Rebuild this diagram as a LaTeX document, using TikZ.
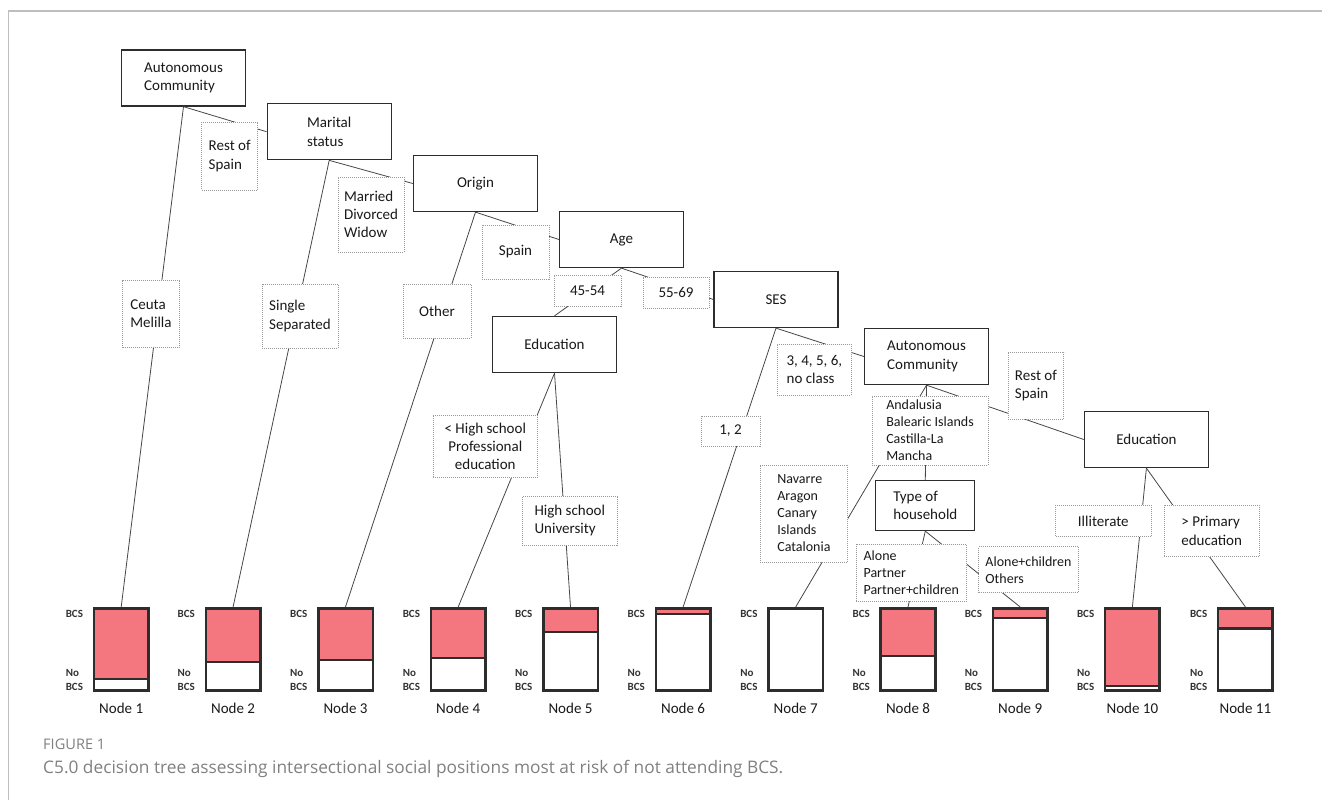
\documentclass[tikz,border=0pt]{standalone}
\usepackage{fontspec}
\setmainfont{Carlito}
\newfontfamily\capfont{Open Sans}
\usepackage{tikz}
\usetikzlibrary{positioning}

\definecolor{bcsred}{RGB}{244,119,127}
\definecolor{boxline}{RGB}{45,45,45}
\definecolor{edgeline}{RGB}{70,70,70}
\definecolor{frameline}{RGB}{190,190,190}
\definecolor{capgray}{RGB}{128,128,128}

\begin{document}
\begin{tikzpicture}[
    x=1pt, y=-1pt,
    every node/.style={font=\fontsize{15}{18.3}\selectfont, text=black!90}
  ]

  % styles
  \tikzstyle{split}=[rectangle, draw=boxline, line width=1.3pt, fill=white, minimum width=124pt, minimum height=56pt, align=left, inner sep=2pt]
  \tikzstyle{cond}=[rectangle, draw=black!40, dash pattern=on 1pt off 1pt, line width=0.8pt, fill=white, align=left, inner sep=1pt]
  \tikzstyle{condsmall}=[cond, font=\fontsize{14}{17}\selectfont]
  \tikzstyle{edge}=[draw=edgeline, line width=0.8pt]
  \tikzstyle{bar}=[rectangle, draw=boxline, line width=2.6pt, minimum width=54.6pt, minimum height=82.5pt, inner sep=0pt]
  \tikzstyle{barlbl}=[font=\fontsize{11}{14}\selectfont\bfseries, text=black!80, align=left, inner sep=0pt]

  \useasboundingbox (0,0) rectangle (1322,800);

  % frame
  \draw[frameline, line width=1.5pt] (1322,11) -- (8.5,11) -- (8.5,800);

  % splitting variables
  \node[split] (ac1) at (183.5,78) {Autonomous\\Community};
  \node[split] (marital) at (329.2,131.7) {Marital\\status};
  \node[split] (origin) at (475.5,183.5) {Origin};
  \node[split] (age) at (621.5,239.5) {Age};
  \node[split] (ses) at (776,299.5) {SES};
  \node[split] (edu1) at (554.5,344.5) {Education};
  \node[split] (ac2) at (926.5,356.5) {Autonomous\\Community};
  \node[split] (edu2) at (1146.4,439.5) {Education};
  \node[split, minimum width=99pt, minimum height=50pt] (house) at (925.3,505.5) {Type of\\household};

  % terminal nodes
  \foreach \i/\x/\d in {1/121.2/679, 2/233.1/662, 3/345.5/660, 4/458.2/658, 5/570.5/632, 6/683.1/614,
      7/795.7/608.3, 8/908/656, 9/1020.2/618, 10/1132.4/686, 11/1245.4/628.5}{
    \fill[bcsred] (\x-27.3,608.3) rectangle (\x+27.3,\d);
    \draw[boxline, line width=2.6pt] (\x-27.3,\d) -- (\x+27.3,\d);
    \node[bar] (n\i) at (\x,649.5) {};
    \node[barlbl, anchor=west] at ([xshift=-27pt, yshift=-6.5pt]n\i.north west) {BCS};
    \node[barlbl, anchor=west] at ([xshift=-27pt, yshift=11.7pt]n\i.south west) {No\\BCS};
    \node[below=11pt of n\i, inner sep=0pt] (t\i) {Node \i};
  }

  % edges
  \draw[edge] (ac1.south) -- (marital.west);
  \draw[edge] (ac1.south) -- (n1.north);
  \draw[edge] (marital.south) -- (origin.west);
  \draw[edge] (marital.south) -- (n2.north);
  \draw[edge] (origin.south) -- (age.west);
  \draw[edge] (origin.south) -- (n3.north);
  \draw[edge] (age.south) -- (edu1.north);
  \draw[edge] (age.south) -- (ses.west);
  \draw[edge] (edu1.south) -- (n4.north);
  \draw[edge] (edu1.south) -- (n5.north);
  \draw[edge] (ses.south) -- (n6.north);
  \draw[edge] (ses.south) -- (ac2.west);
  \draw[edge] (ac2.south) -- (n7.north);
  \draw[edge] (ac2.south) -- (house.north);
  \draw[edge] (ac2.south) -- (edu2.west);
  \draw[edge] (house.south) -- (n8.north);
  \draw[edge] (house.south) -- (n9.north);
  \draw[edge] (edu2.south) -- (n10.north);
  \draw[edge] (edu2.south) -- (n11.north);

  % split conditions
  \node[cond, minimum width=56.6pt, minimum height=67.7pt] (ceuta) at (151,314) {Ceuta\\Melilla};
  \node[cond, minimum width=56pt, minimum height=68pt] (rest1) at (229.7,156) {Rest of\\Spain};
  \node[cond, minimum width=76pt, minimum height=64pt] (single) at (300,316) {Single\\Separated};
  \node[cond, minimum width=66pt, minimum height=75pt] (married) at (371,214.5) {Married\\Divorced\\Widow};
  \node[cond, minimum width=68pt, minimum height=54pt] (other) at (437,311) {Other};
  \node[cond, minimum width=67pt, minimum height=54pt] (spain) at (515.5,252) {Spain};
  \node[cond, minimum width=67pt, minimum height=31pt] (young) at (587.5,290.5) {45-54};
  \node[cond, minimum width=66pt, minimum height=31pt] (old) at (676,292.5) {55-69};
  \node[cond, align=center, minimum width=104pt, minimum height=62.7pt] (lowedu) at (485.3,446.4) {< High school\\Professional\\education};
  \node[cond, minimum width=95pt, minimum height=49.3pt] (highedu) at (569.8,520.7) {High school\\University};
  \node[cond, minimum width=59pt, minimum height=30pt] (seslow) at (730.5,431) {1, 2};
  \node[cond, minimum width=74pt, minimum height=51pt] (seshigh) at (814.4,369.5) {3, 4, 5, 6,\\no class};
  \node[cond, minimum width=55.8pt, minimum height=67pt] (rest2) at (1035.9,385.5) {Rest of\\Spain};
  \node[condsmall, minimum width=116pt, minimum height=69pt] (south) at (930,430.5) {Andalusia\\Balearic Islands\\Castilla-La\\Mancha};
  \node[condsmall, minimum width=87.8pt, minimum height=97pt] (north) at (803.9,513.5) {Navarre\\Aragon\\Canary\\Islands\\Catalonia};
  \node[condsmall, minimum width=110.7pt, minimum height=57pt] (couple) at (911.3,572.5) {Alone\\Partner\\Partner+children};
  \node[condsmall, minimum width=99.6pt, minimum height=46pt] (family) at (1028.5,569.7) {Alone+children\\Others};
  \node[cond, align=center, minimum width=95.3pt, minimum height=31.4pt] (illit) at (1103.3,521) {Illiterate};
  \node[cond, minimum width=95.3pt, minimum height=51.4pt] (primary) at (1211.7,531) {> Primary\\education};

  % caption
  \node[anchor=base west, inner sep=0pt, text=capgray, font=\capfont\fontsize{14.6}{17}\selectfont] (fig) at (43,749.3) {FIGURE 1};
  \node[anchor=base west, inner sep=0pt, text=capgray, font=\capfont\fontsize{17.3}{20}\selectfont] (cap) at (43,773.3) {C5.0 decision tree assessing intersectional social positions most at risk of not attending BCS.};

\end{tikzpicture}
\end{document}
